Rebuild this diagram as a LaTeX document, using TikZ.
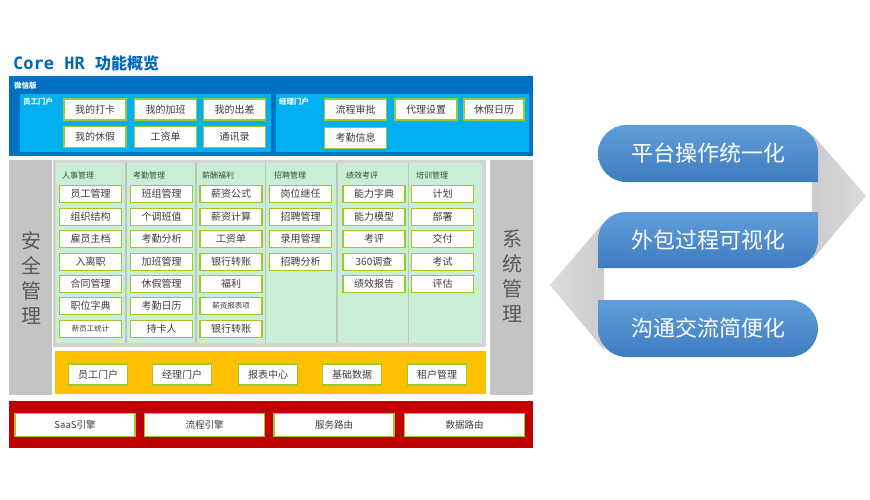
\documentclass[tikz,border=0pt]{standalone}
\usepackage{fontspec}
\setmainfont{Noto Sans CJK SC}
\newfontfamily\titlemono{DejaVu Sans Mono}
\definecolor{titleblue}{RGB}{0,104,182}
\definecolor{darkblue}{RGB}{0,112,192}
\definecolor{cyanb}{RGB}{0,176,240}
\definecolor{sidegray}{RGB}{196,196,196}
\definecolor{framegray}{RGB}{212,212,212}
\definecolor{mint}{RGB}{202,237,213}
\definecolor{divgray}{RGB}{185,200,190}
\definecolor{bandorange}{RGB}{255,192,0}
\definecolor{bandred}{RGB}{192,0,0}
\definecolor{boxgreen}{RGB}{160,200,45}
\definecolor{txtgray}{RGB}{60,60,60}
\definecolor{hdrtxt}{RGB}{55,80,60}
\definecolor{pilltop}{RGB}{96,158,218}
\definecolor{pillbot}{RGB}{62,124,192}
\tikzset{
  box/.style={draw=boxgreen, line width=1.6pt, fill=white, inner sep=0pt,
    minimum width=62pt, minimum height=17pt, text=txtgray,
    font=\fontsize{10}{10}\selectfont},
  pbox/.style={box, minimum height=21pt},
  smallbox/.style={box, font=\fontsize{7.5}{7.5}\selectfont},
  lbl/.style={anchor=west, inner sep=0pt, text=white, font=\bfseries\fontsize{7.5}{7.5}\selectfont},
  hdr/.style={anchor=west, inner sep=0pt, text=hdrtxt, font=\fontsize{8}{8}\selectfont},
  sidelbl/.style={align=center, inner sep=0pt, text=black!65, font=\fontsize{20}{25}\selectfont},
  pilltxt/.style={inner sep=0pt, text=white, font=\fontsize{22}{22}\selectfont},
  pillfill/.style={top color=pilltop, bottom color=pillbot},
  rfold/.style={left color=gray!40, middle color=gray!5, right color=gray!28},
  lfold/.style={left color=gray!28, middle color=gray!5, right color=gray!40}
}
\begin{document}
\begin{tikzpicture}[x=1pt,y=1pt]
\useasboundingbox (0,0) rectangle (870,-500);
\fill[white] (0,0) rectangle (870,-500);

% title
\node[anchor=base west, inner sep=0pt, text=titleblue] (title) at (13,-70)
  {{\titlemono\bfseries\fontsize{17}{17}\selectfont Core HR }{\bfseries\fontsize{16}{16}\selectfont 功能概览}};

% ---------- top portal panel ----------
\fill[darkblue] (9,-76) rectangle (533,-156);
\fill[cyanb] (20,-94) rectangle (271,-152);
\fill[cyanb] (276,-94) rectangle (529,-152);
\node[lbl] (wx) at (14,-86) {微信版};
\node[lbl] (emp) at (23,-102) {员工门户};
\node[lbl] (mgr) at (279,-102) {经理门户};

\node[pbox] (e1) at (95,-109.5) {我的打卡};
\node[pbox] (e2) at (165.5,-109.5) {我的加班};
\node[pbox] (e3) at (234.5,-109.5) {我的出差};
\node[pbox] (e4) at (95,-137) {我的休假};
\node[pbox] (e5) at (165.5,-137) {工资单};
\node[pbox] (e6) at (234.5,-137) {通讯录};

\node[pbox] (m1) at (355.5,-109.5) {流程审批};
\node[pbox] (m2) at (426,-109.5) {代理设置};
\node[pbox, minimum width=60pt] (m3) at (494,-109.5) {休假日历};
\node[pbox] (m4) at (355.5,-138) {考勤信息};

% ---------- middle ----------
\fill[sidegray] (9,-160) rectangle (52,-395);
\fill[sidegray] (490,-160) rectangle (533,-395);
\fill[framegray] (53,-160) rectangle (486,-347);
\fill[mint] (56,-163) rectangle (482,-343);
\foreach \xx in {126,196,265.5,337,408.5}
  \draw[divgray, line width=1.4pt] (\xx,-163) -- (\xx,-343);

\node[sidelbl] (sec) at (31,-278) {安\\全\\管\\理};
\node[sidelbl] (sys) at (512,-276) {系\\统\\管\\理};

\node[hdr] (h1) at (62,-175) {人事管理};
\node[hdr] (h2) at (133,-175) {考勤管理};
\node[hdr] (h3) at (202,-175) {薪酬福利};
\node[hdr] (h4) at (274,-175) {招聘管理};
\node[hdr] (h5) at (346,-175) {绩效考评};
\node[hdr] (h6) at (416,-175) {培训管理};

% column 1
\node[box] (a1) at (90.5,-194) {员工管理};
\node[box] (a2) at (90.5,-217) {组织结构};
\node[box] (a3) at (90.5,-239) {雇员主档};
\node[box] (a4) at (90.5,-262) {入离职};
\node[box] (a5) at (90.5,-284) {合同管理};
\node[box] (a6) at (90.5,-306) {职位字典};
\node[smallbox] (a7) at (90.5,-329) {新员工统计};
% column 2
\node[box] (b1) at (161.5,-194) {班组管理};
\node[box] (b2) at (161.5,-217) {个调班值};
\node[box] (b3) at (161.5,-239) {考勤分析};
\node[box] (b4) at (161.5,-262) {加班管理};
\node[box] (b5) at (161.5,-284) {休假管理};
\node[box] (b6) at (161.5,-306) {考勤日历};
\node[box] (b7) at (161.5,-329) {持卡人};
% column 3
\node[box] (c1) at (231,-194) {薪资公式};
\node[box] (c2) at (231,-217) {薪资计算};
\node[box] (c3) at (231,-239) {工资单};
\node[box] (c4) at (231,-262) {银行转账};
\node[box] (c5) at (231,-284) {福利};
\node[smallbox] (c6) at (231,-306) {薪资报表项};
\node[box] (c7) at (231,-329) {银行转账};
% column 4
\node[box] (d1) at (300.5,-194) {岗位继任};
\node[box] (d2) at (300.5,-217) {招聘管理};
\node[box] (d3) at (300.5,-239) {录用管理};
\node[box] (d4) at (300.5,-262) {招聘分析};
% column 5
\node[box] (f1) at (374,-194) {能力字典};
\node[box] (f2) at (374,-217) {能力模型};
\node[box] (f3) at (374,-239) {考评};
\node[box] (f4) at (374,-262) {360调查};
\node[box] (f5) at (374,-284) {绩效报告};
% column 6
\node[box] (g1) at (442.5,-194) {计划};
\node[box] (g2) at (442.5,-217) {部署};
\node[box] (g3) at (442.5,-239) {交付};
\node[box] (g4) at (442.5,-262) {考试};
\node[box] (g5) at (442.5,-284) {评估};

% ---------- orange band ----------
\fill[bandorange] (55,-351) rectangle (486,-394);
\node[pbox, minimum width=59pt] (y1) at (98,-374.5) {员工门户};
\node[pbox, minimum width=59pt] (y2) at (182,-374.5) {经理门户};
\node[pbox, minimum width=59pt] (y3) at (268,-374.5) {报表中心};
\node[pbox, minimum width=59pt] (y4) at (352,-374.5) {基础数据};
\node[pbox, minimum width=59pt] (y5) at (437,-374.5) {租户管理};

% ---------- red band ----------
\fill[bandred] (9,-401) rectangle (533,-448);
\node[box, minimum width=120pt, minimum height=23pt, font=\fontsize{9.5}{9.5}\selectfont] (r1) at (75,-425) {SaaS引擎};
\node[box, minimum width=120pt, minimum height=23pt, font=\fontsize{9.5}{9.5}\selectfont] (r2) at (204.5,-425) {流程引擎};
\node[box, minimum width=120pt, minimum height=23pt, font=\fontsize{9.5}{9.5}\selectfont] (r3) at (334,-425) {服务路由};
\node[box, minimum width=120pt, minimum height=23pt, font=\fontsize{9.5}{9.5}\selectfont] (r4) at (464.5,-425) {数据路由};

% ---------- ribbon on the right ----------
\shade[rfold] (812,-134) -- (866,-196) -- (812,-260) -- cycle;
\shade[lfold] (604,-222) -- (550,-285) -- (604,-350) -- cycle;

\path[pillfill] (626.5,-125) -- (789.5,-125) arc[start angle=90,end angle=0,radius=28.5]
  -- (818,-182) -- (626.5,-182) arc[start angle=270,end angle=90,radius=28.5] -- cycle;
\path[pillfill] (626,-212) -- (818,-212) -- (818,-240) arc[start angle=0,end angle=-90,radius=28]
  -- (598,-268) -- (598,-240) arc[start angle=180,end angle=90,radius=28] -- cycle;
\path[pillfill] (598,-300) -- (789.5,-300) arc[start angle=90,end angle=-90,radius=28.5]
  -- (626.5,-357) arc[start angle=270,end angle=180,radius=28.5] -- cycle;

\node[pilltxt] (t1) at (708,-153.5) {平台操作统一化};
\node[pilltxt] (t2) at (708,-240) {外包过程可视化};
\node[pilltxt] (t3) at (708,-328.5) {沟通交流简便化};
\end{tikzpicture}
\end{document}
